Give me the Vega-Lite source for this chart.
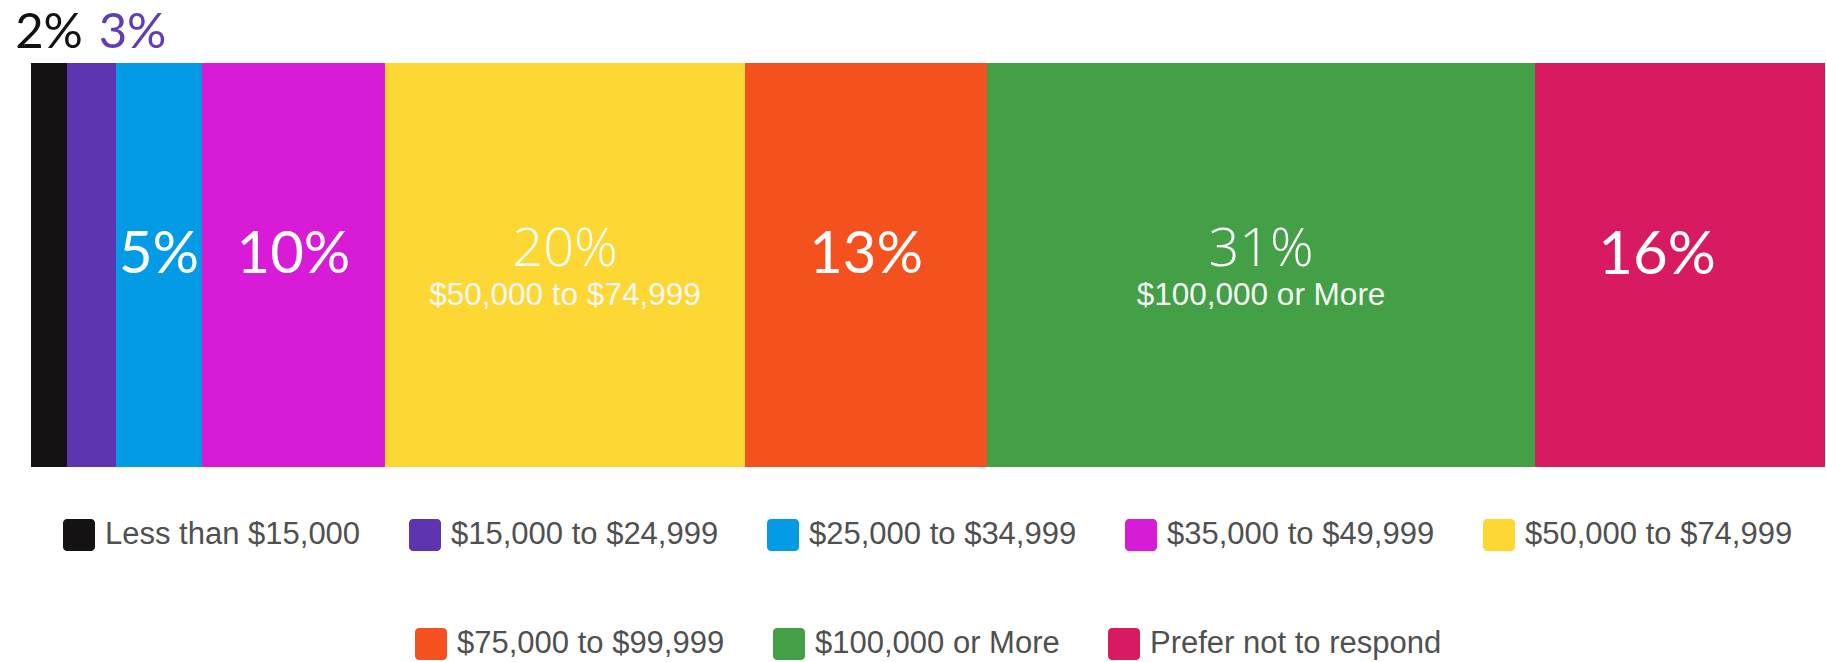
{
  "$schema": "https://vega.github.io/schema/vega-lite/v6.json",
  "width": 1794,
  "height": 404,
  "autosize": {"type": "none"},
  "padding": {"left": 31, "top": 63, "right": 1, "bottom": 195},
  "background": "white",
  "config": {"view": {"stroke": null}},
  "data": {
    "values": [
      {"group": "Income", "idx": 1, "income": "Less than $15,000", "pct": 0.0201},
      {"group": "Income", "idx": 2, "income": "$15,000 to $24,999", "pct": 0.0273},
      {"group": "Income", "idx": 3, "income": "$25,000 to $34,999", "pct": 0.0479},
      {"group": "Income", "idx": 4, "income": "$35,000 to $49,999", "pct": 0.1020},
      {"group": "Income", "idx": 5, "income": "$50,000 to $74,999", "pct": 0.2007},
      {"group": "Income", "idx": 6, "income": "$75,000 to $99,999", "pct": 0.1349},
      {"group": "Income", "idx": 7, "income": "$100,000 or More", "pct": 0.3055},
      {"group": "Income", "idx": 8, "income": "Prefer not to respond", "pct": 0.1616}
    ]
  },
  "encoding": {
    "y": {"field": "group", "type": "nominal", "axis": null, "scale": {"paddingInner": 0, "paddingOuter": 0}},
    "x": {"field": "pct", "type": "quantitative", "stack": "zero", "axis": null, "scale": {"domain": [0, 1], "nice": false, "zero": true}},
    "order": {"field": "idx", "type": "quantitative"}
  },
  "layer": [
    {
      "mark": {"type": "bar"},
      "encoding": {
        "color": {
          "field": "income", "type": "nominal",
          "scale": {
            "domain": ["Less than $15,000", "$15,000 to $24,999", "$25,000 to $34,999", "$35,000 to $49,999", "$50,000 to $74,999", "$75,000 to $99,999", "$100,000 or More", "Prefer not to respond"],
            "range": ["#141213", "#5e35b1", "#039be5", "#d81bd6", "#fdd835", "#f4511e", "#43a047", "#d81b60"]
          },
          "legend": {
            "values": ["Less than $15,000", "$15,000 to $24,999", "$25,000 to $34,999", "$35,000 to $49,999", "$50,000 to $74,999"],
            "title": null,
            "orient": "none",
            "legendX": 32,
            "legendY": 456,
            "direction": "horizontal",
            "padding": 0,
            "columnPadding": 48,
            "labelOffset": 10,
            "symbolSize": 1024,
            "symbolType": "M-0.75,-1H0.75A0.25,0.25,0,0,1,1,-0.75V0.75A0.25,0.25,0,0,1,0.75,1H-0.75A0.25,0.25,0,0,1,-1,0.75V-0.75A0.25,0.25,0,0,1,-0.75,-1Z",
            "symbolStrokeWidth": 0,
            "symbolOpacity": 1,
            "labelFont": "Liberation Sans",
            "labelFontSize": 31,
            "labelColor": "#505050",
            "labelLimit": 0
          }
        }
      }
    },
    {
      "mark": {"type": "bar"},
      "encoding": {
        "color": {
          "field": "income", "type": "nominal",
          "scale": {
            "domain": ["Less than $15,000", "$15,000 to $24,999", "$25,000 to $34,999", "$35,000 to $49,999", "$50,000 to $74,999", "$75,000 to $99,999", "$100,000 or More", "Prefer not to respond"],
            "range": ["#141213", "#5e35b1", "#039be5", "#d81bd6", "#fdd835", "#f4511e", "#43a047", "#d81b60"]
          },
          "legend": {
            "values": ["$75,000 to $99,999", "$100,000 or More", "Prefer not to respond"],
            "title": null,
            "orient": "none",
            "legendX": 384,
            "legendY": 565,
            "direction": "horizontal",
            "padding": 0,
            "columnPadding": 48,
            "labelOffset": 10,
            "symbolSize": 1024,
            "symbolType": "M-0.75,-1H0.75A0.25,0.25,0,0,1,1,-0.75V0.75A0.25,0.25,0,0,1,0.75,1H-0.75A0.25,0.25,0,0,1,-1,0.75V-0.75A0.25,0.25,0,0,1,-0.75,-1Z",
            "symbolStrokeWidth": 0,
            "symbolOpacity": 1,
            "labelFont": "Liberation Sans",
            "labelFontSize": 31,
            "labelColor": "#505050",
            "labelLimit": 0
          }
        }
      }
    },
    {
      "mark": {"type": "text", "font": "Lato", "fontSize": 58, "color": "white", "align": "center", "baseline": "middle", "dy": -9},
      "encoding": {
        "x": {"field": "pct", "type": "quantitative", "stack": "zero", "bandPosition": 0.5},
        "detail": {"field": "income"},
        "text": {"condition": {"test": "datum.idx == 3 || datum.idx == 4 || datum.idx == 6", "field": "pct", "type": "quantitative", "format": ".0%"}, "value": ""}
      }
    },
    {
      "mark": {"type": "text", "font": "Lato", "fontSize": 60, "color": "white", "align": "center", "baseline": "middle", "dy": -9, "dx": -23},
      "encoding": {
        "x": {"field": "pct", "type": "quantitative", "stack": "zero", "bandPosition": 0.5},
        "detail": {"field": "income"},
        "text": {"condition": {"test": "datum.idx == 8", "field": "pct", "type": "quantitative", "format": ".0%"}, "value": ""}
      }
    },
    {
      "mark": {"type": "text", "font": "Open Sans", "fontWeight": 300, "fontSize": 54, "color": "white", "align": "center", "baseline": "middle", "dy": -15},
      "encoding": {
        "x": {"field": "pct", "type": "quantitative", "stack": "zero", "bandPosition": 0.5},
        "detail": {"field": "income"},
        "text": {"condition": {"test": "datum.idx == 5 || datum.idx == 7", "field": "pct", "type": "quantitative", "format": ".0%"}, "value": ""}
      }
    },
    {
      "mark": {"type": "text", "font": "Liberation Sans", "fontSize": 31.5, "color": "#f7f7f7", "align": "center", "baseline": "middle", "dy": 31},
      "encoding": {
        "x": {"field": "pct", "type": "quantitative", "stack": "zero", "bandPosition": 0.5},
        "detail": {"field": "income"},
        "text": {"condition": {"test": "datum.idx == 5 || datum.idx == 7", "field": "income", "type": "nominal"}, "value": ""}
      }
    },
    {
      "mark": {"type": "text", "font": "Lato", "fontSize": 49, "color": "#111111", "align": "center", "baseline": "alphabetic", "dy": -15},
      "encoding": {
        "x": {"field": "pct", "type": "quantitative", "stack": "zero", "bandPosition": 0.5},
        "y": {"field": "group", "type": "nominal", "bandPosition": 0},
        "detail": {"field": "income"},
        "text": {"condition": {"test": "datum.idx == 1", "field": "pct", "type": "quantitative", "format": ".0%"}, "value": ""}
      }
    },
    {
      "mark": {"type": "text", "font": "Lato", "fontSize": 49, "color": "#5f3dba", "align": "center", "baseline": "alphabetic", "dy": -15, "dx": 41},
      "encoding": {
        "x": {"field": "pct", "type": "quantitative", "stack": "zero", "bandPosition": 0.5},
        "y": {"field": "group", "type": "nominal", "bandPosition": 0},
        "detail": {"field": "income"},
        "text": {"condition": {"test": "datum.idx == 2", "field": "pct", "type": "quantitative", "format": ".0%"}, "value": ""}
      }
    }
  ],
  "resolve": {"scale": {"color": "independent"}, "legend": {"color": "independent"}}
}
